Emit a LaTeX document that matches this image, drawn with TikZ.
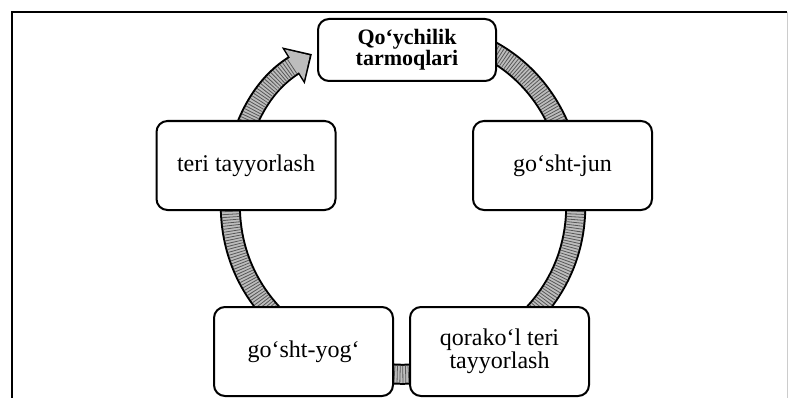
\documentclass[tikz,border=0pt]{standalone}
\usepackage{fontspec}
\setmainfont{Liberation Serif}
\usetikzlibrary{calc,arrows.meta,backgrounds}
\definecolor{BandGray}{HTML}{BDBDBD}
\definecolor{BandDark}{HTML}{575757}

\begin{document}
\begin{tikzpicture}[x=1pt,y=1pt,line cap=butt,
  box/.style={draw,line width=2pt,rounded corners=11pt,fill=white,minimum width=179pt,minimum height=89pt,inner sep=0pt,align=center,font=\fontsize{24}{20}\selectfont},
  band/.style={draw=black,line width=21pt,postaction={draw=BandGray,line width=17pt},postaction={draw=BandDark,line width=17pt,dash pattern=on .8pt off 2pt}}]
  \useasboundingbox (0,0) rectangle (789,397);
  \draw[line width=1.6pt] (12,-10) |- (787,385); \draw[gray!40,line width=.6pt] (787,385) -- (787,-10);
  \coordinate (hub) at (403,197);
  \node[box,minimum width=178pt,minimum height=62pt,font=\bfseries\fontsize{22}{21}\selectfont] (top) at (407,347) {Qo‘ychilik\\tarmoqlari};
  \node[box] (teri) at (246,231.5) {teri tayyorlash}; \node[box] (jun) at (562.5,231.5) {go‘sht-jun};
  \node[box] (yog) at (303.5,45.5) {go‘sht-yog‘}; \node[box] (qorakol) at (499.5,45.5) {qorako‘l teri\\tayyorlash};
  \coordinate (top-r) at ($(hub)!172pt!-8:(top)$); \coordinate (tip) at ($(hub)!172pt!33.5:(top)$);
  \coordinate (jun-r) at ($(hub)!172pt!(jun)$); \coordinate (qorakol-r) at ($(hub)!172pt!(qorakol)$);
  \coordinate (yog-r) at ($(hub)!172pt!(yog)$); \coordinate (teri-r) at ($(hub)!172pt!(teri)$);
  \begin{scope}[on background layer]
    \draw[band] (top-r) to[bend left=34] (jun-r); \draw[band] (jun-r) to[bend left=35] (qorakol-r);
    \draw[band] (qorakol-r) to[bend left=33] (yog-r); \draw[band] (yog-r) to[bend left=34.5] (teri-r);
    \draw[black,line width=21pt,-{Triangle[width=42pt,length=22pt]}] (teri-r) to[bend left=23] (tip);
    \draw[BandGray,line width=17pt,shorten >=2.5pt,-{Triangle[width=35pt,length=18pt]}] (teri-r) to[bend left=23] (tip);
    \draw[BandDark,line width=17pt,dash pattern=on .8pt off 2pt,shorten >=21pt] (teri-r) to[bend left=23] (tip);
  \end{scope}
\end{tikzpicture}
\end{document}
